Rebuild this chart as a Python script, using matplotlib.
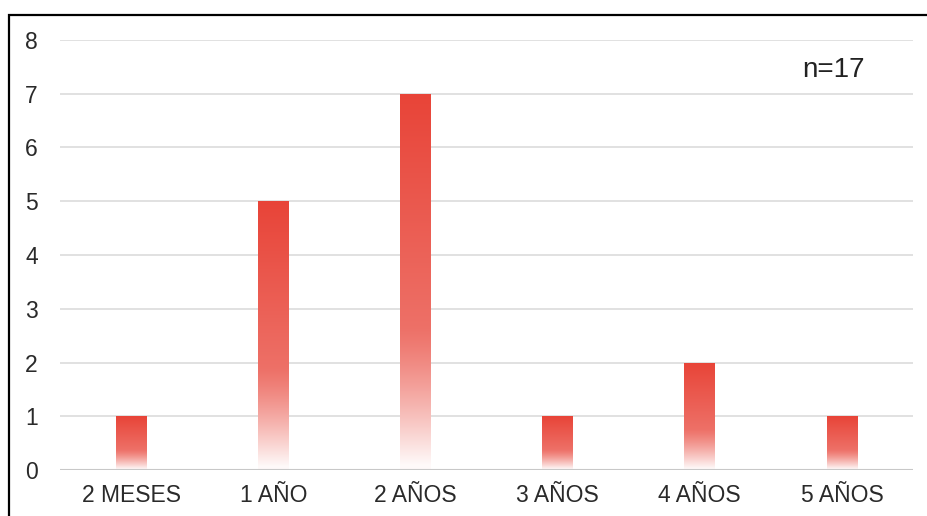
import numpy as np
import matplotlib.pyplot as plt
from matplotlib.patches import Rectangle

categories = ['2 MESES', '1 AÑO', '2 AÑOS', '3 AÑOS', '4 AÑOS', '5 AÑOS']
counts = [1, 5, 7, 1, 2, 1]
yticks = [0, 1, 2, 3, 4, 5, 6, 7, 8]
note = 'n=17'

plt.rcParams['font.family'] = ['Liberation Sans', 'DejaVu Sans']

fig = plt.figure(figsize=(9.28, 5.16), dpi=100)
ax = fig.add_axes([60 / 928, 1 - 470 / 516, 853 / 928, 430 / 516])

x = np.arange(len(categories))
bars = ax.bar(x, counts, width=0.215, color='none', edgecolor='none', zorder=3)

# vertical red -> white fade inside every bar
top_rgb = np.array([232, 68, 56]) / 255.0
t = np.linspace(0, 1, 256)[:, None]
fade = 0.38 * t + 0.62 * np.clip((t - 0.62) / 0.38, 0, 1) ** 1.3
fade = np.clip(fade, 0, 0.97)
grad = top_rgb[None, :] * (1 - fade) + fade
grad = np.repeat(grad[:, None, :], 2, axis=1)

for b in bars:
    x0, y0 = b.get_x(), b.get_y()
    w, h = b.get_width(), b.get_height()
    im = ax.imshow(grad, extent=[x0, x0 + w, y0, y0 + h], origin='upper',
                   aspect='auto', zorder=3, interpolation='bilinear')
    im.set_clip_path(b)

ax.set_xlim(-0.5, len(categories) - 0.5)
ax.set_ylim(0, 8)
ax.set_yticks(yticks)
ax.set_xticks(x)
ax.set_xticklabels(categories)

for v in yticks[1:]:
    ax.axhline(v, color='#dedede', lw=1.3, zorder=1)
ax.axhline(0, color='#c8c8c8', lw=1.5, zorder=4)

for s in ax.spines.values():
    s.set_visible(False)
ax.tick_params(axis='both', length=0, labelsize=16.5, colors='#2a2a2a')
ax.tick_params(axis='y', pad=16)
ax.tick_params(axis='x', pad=10)

ax.text(0.907, 0.93, note, transform=ax.transAxes, ha='center', va='center',
        fontsize=20, color='#222222')

# outer frame, running off the right and bottom edges
fig.patches.append(Rectangle((9.5 / 928, -0.05), 1.0, 1 - 14.5 / 516 + 0.05,
                             transform=fig.transFigure, fill=False,
                             edgecolor='black', lw=1.6))

fig.savefig('out.png', dpi=100)
